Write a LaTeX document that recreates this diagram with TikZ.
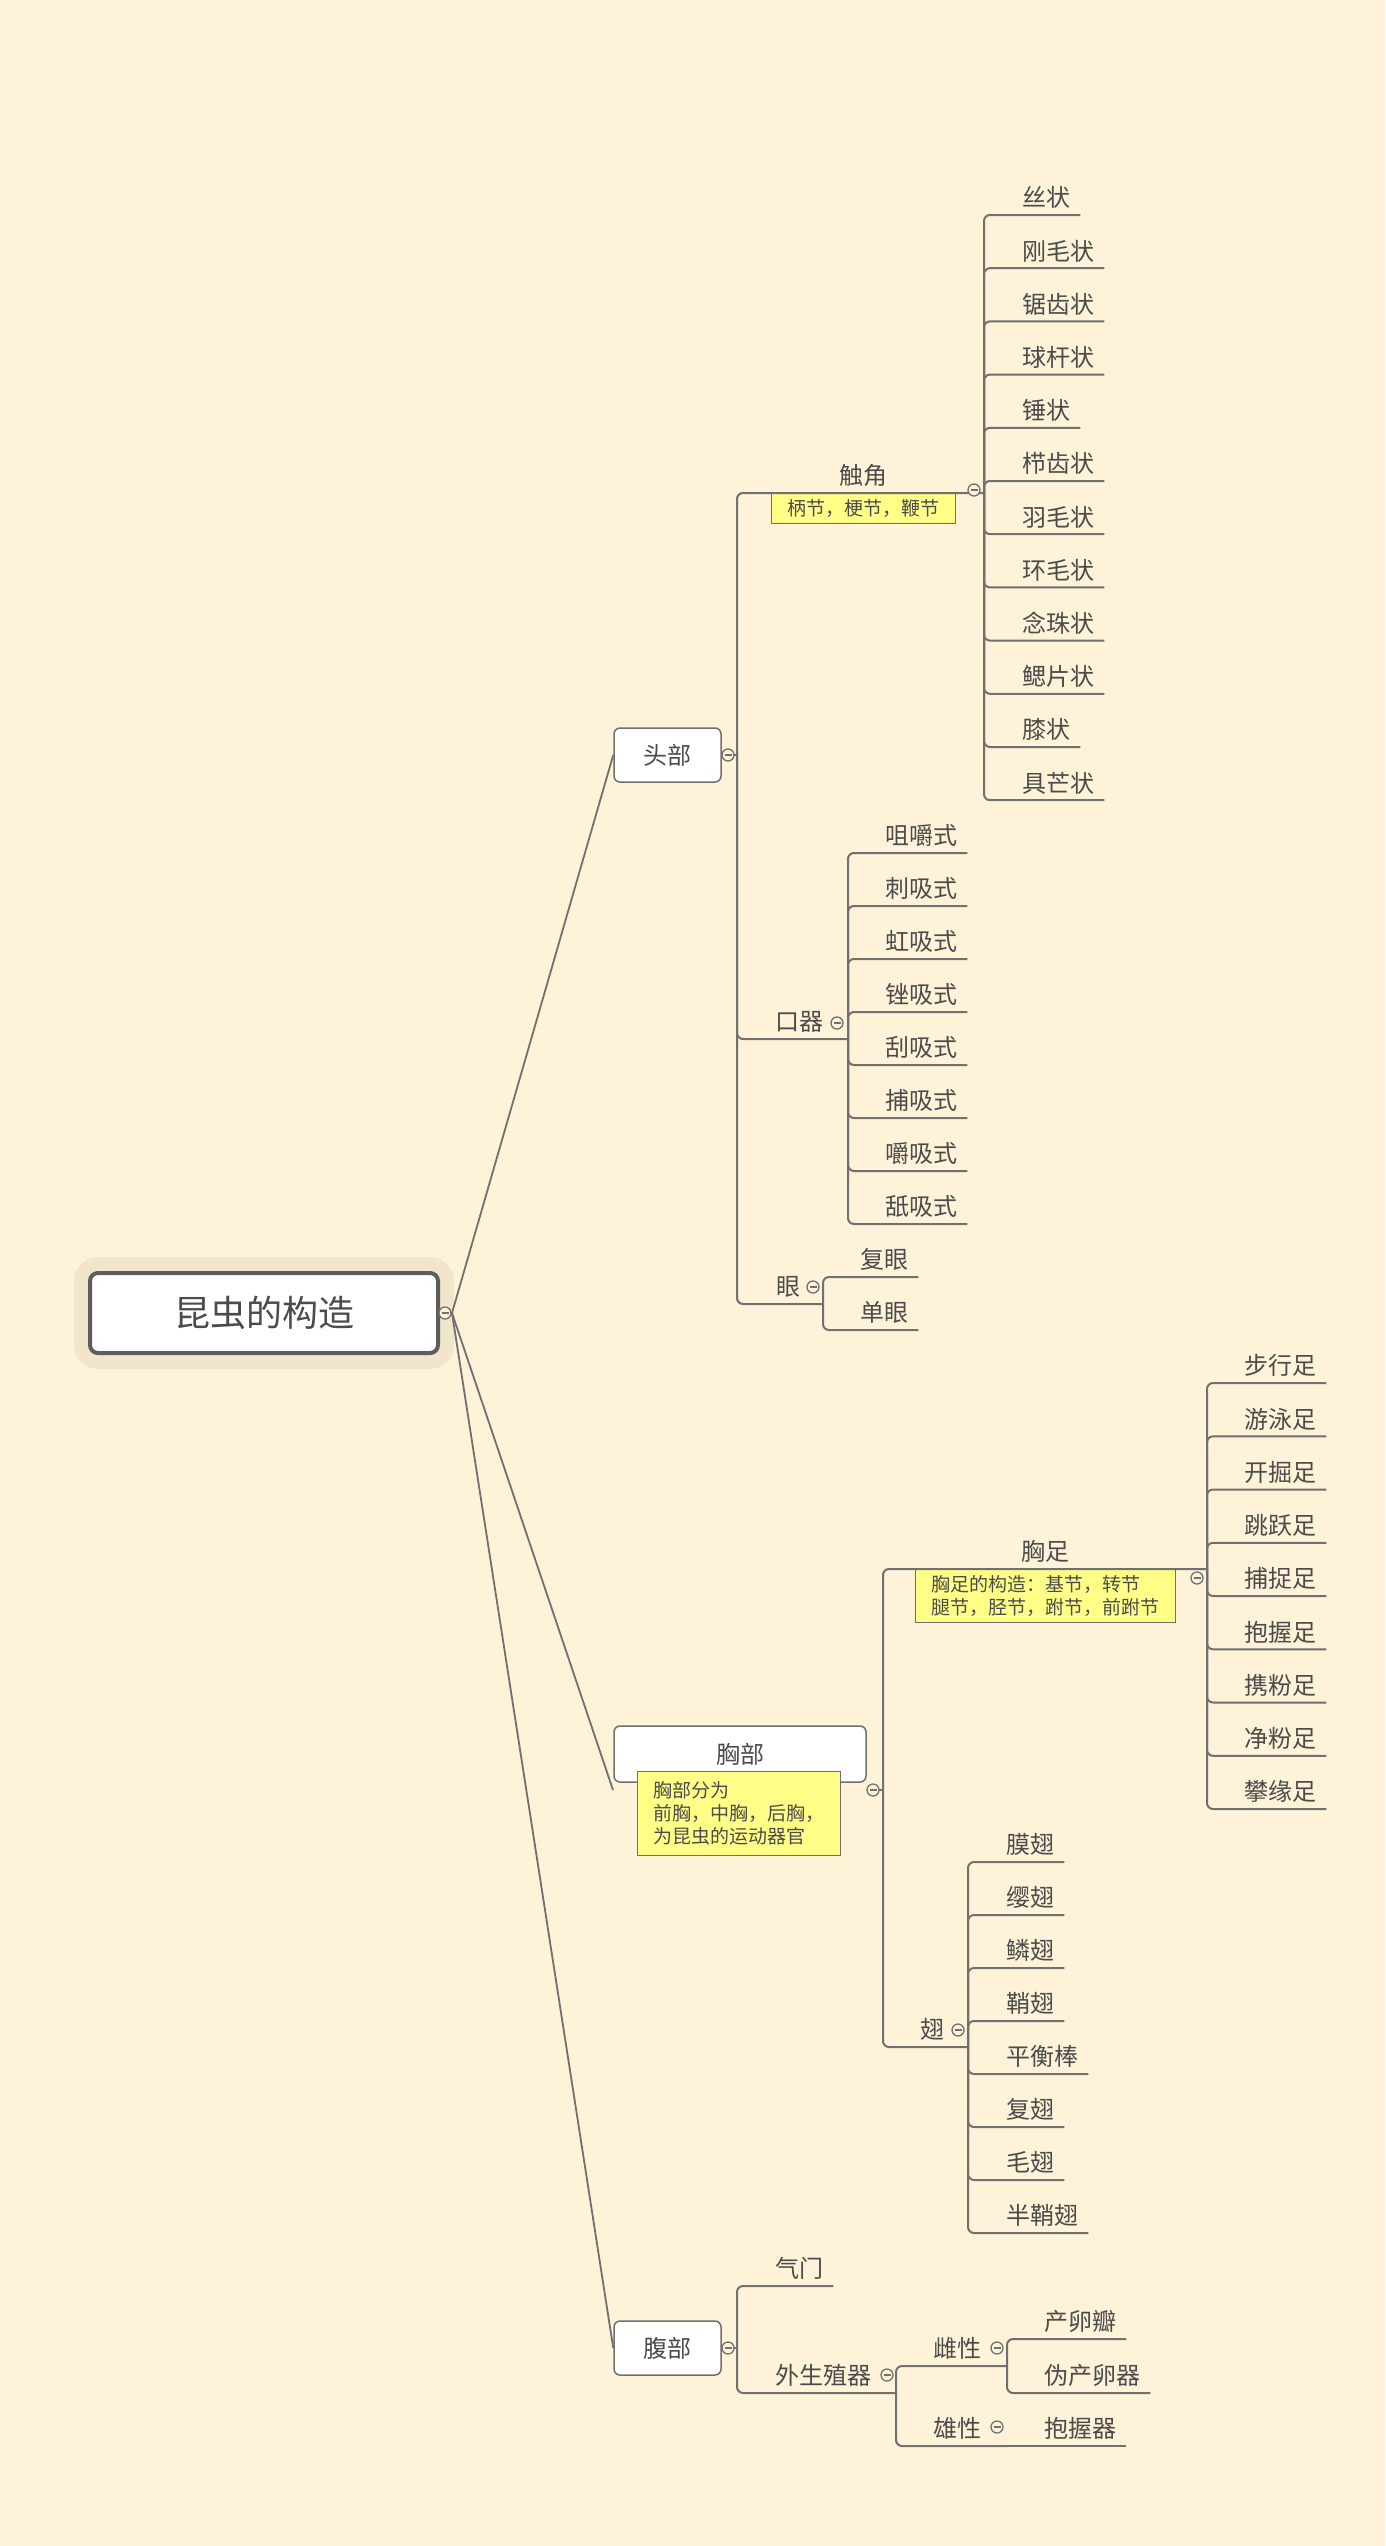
\documentclass[tikz,border=0pt]{standalone}
\usepackage{fontspec}
\newfontfamily\cjk{Noto Sans CJK SC}
\usetikzlibrary{positioning,calc}

\definecolor{paper}{HTML}{FEF3D8}
\definecolor{halo}{HTML}{F1E6CB}
\definecolor{ink}{HTML}{4B4B4B}
\definecolor{wire}{HTML}{707070}
\definecolor{notefill}{HTML}{FFFF88}

\begin{document}
\begin{tikzpicture}[
  x=1pt, y=-1pt,
  conn/.style={draw=wire, line width=2pt, rounded corners=6pt},
  spoke/.style={draw=wire, line width=1.8pt},
  root/.style={
    draw=ink!90,
    line width=4pt,
    fill=white,
    rounded corners=8pt,
    minimum width=348pt,
    minimum height=80pt,
    font=\cjk\fontsize{36}{40}\selectfont,
    text=ink,
    preaction={draw=halo, line width=32pt}
  },
  branch/.style={
    draw=wire,
    line width=1.5pt,
    fill=white,
    rounded corners=6pt,
    minimum width=107pt,
    minimum height=54pt,
    font=\cjk\fontsize{24}{28}\selectfont,
    text=ink
  },
  topic/.style={
    anchor=south west,
    inner xsep=10pt,
    inner ysep=3pt,
    text height=19pt,
    text depth=5pt,
    font=\cjk\fontsize{24}{28}\selectfont,
    text=ink
  },
  note/.style={
    draw=wire,
    line width=1.3pt,
    fill=notefill,
    align=left,
    inner xsep=16pt,
    inner ysep=6pt,
    font=\cjk\fontsize{19}{23}\selectfont,
    text=ink
  },
  fold/.style={
    circle,
    draw=wire,
    fill=paper,
    line width=1.3pt,
    minimum size=12pt,
    inner sep=0pt,
    path picture={\draw[wire, line width=1.3pt]
      ([xshift=-3.5pt]path picture bounding box.center) --
      ([xshift=3.5pt]path picture bounding box.center);}
  }
]

\fill[paper] (0,0) rectangle (1385,2546);
\useasboundingbox (0,0) rectangle (1385,2546);

% root and main branches
\node[root] (root) at (264,1313) {昆虫的构造};
\node[branch] (head) at (667.5,755) {头部};
\node[branch, minimum width=252pt, minimum height=56pt] (thorax) at (740,1754) {胸部};
\node[branch] (abdomen) at (667.5,2348) {腹部};

\node[note, anchor=north west, minimum height=84pt] (th-note) at (637,1771)
  {胸部分为\\前胸，中胸，后胸，\\为昆虫的运动器官};

\coordinate (root-out) at (452,1313);
\coordinate (th-in) at (613,1790);

% head
\coordinate (hd-sp) at (737,755);
\node[topic, minimum width=190pt] (antenna) at (768,493) {触角};
\node[note, below=0pt of antenna, align=center, minimum height=29pt] (an-note) {柄节，梗节，鞭节};
\node[topic] (mouth) at (765,1039) {口器};
\node[topic] (eye) at (766,1304) {眼};

\coordinate (an-sp) at (984,493);
\node[topic] (an1) at (1012,215) {丝状};
\node[topic] (an2) at (1012,268.2) {刚毛状};
\node[topic] (an3) at (1012,321.4) {锯齿状};
\node[topic] (an4) at (1012,374.6) {球杆状};
\node[topic] (an5) at (1012,427.8) {锤状};
\node[topic] (an6) at (1012,481) {栉齿状};
\node[topic] (an7) at (1012,534.2) {羽毛状};
\node[topic] (an8) at (1012,587.4) {环毛状};
\node[topic] (an9) at (1012,640.6) {念珠状};
\node[topic] (an10) at (1012,693.8) {鳃片状};
\node[topic] (an11) at (1012,747) {膝状};
\node[topic] (an12) at (1012,800.2) {具芒状};

\coordinate (mo-sp) at (848,1039);
\node[topic] (mo1) at (875,853) {咀嚼式};
\node[topic] (mo2) at (875,906) {刺吸式};
\node[topic] (mo3) at (875,959) {虹吸式};
\node[topic] (mo4) at (875,1012) {锉吸式};
\node[topic] (mo5) at (875,1065) {刮吸式};
\node[topic] (mo6) at (875,1118) {捕吸式};
\node[topic] (mo7) at (875,1171) {嚼吸式};
\node[topic] (mo8) at (875,1224) {舐吸式};

\coordinate (ey-sp) at (823,1304);
\node[topic] (ey1) at (850,1277) {复眼};
\node[topic] (ey2) at (850,1330) {单眼};

% thorax
\coordinate (th-sp) at (883,1790);
\node[topic, minimum width=265pt] (legs) at (913,1569) {胸足};
\node[note, below=0pt of legs] (lg-note)
  {胸足的构造：基节，转节\\腿节，胫节，跗节，前跗节};
\node[topic] (wings) at (910,2047) {翅};

\coordinate (lg-sp) at (1207,1569);
\node[topic] (lg1) at (1234,1383) {步行足};
\node[topic] (lg2) at (1234,1436.3) {游泳足};
\node[topic] (lg3) at (1234,1489.5) {开掘足};
\node[topic] (lg4) at (1234,1542.8) {跳跃足};
\node[topic] (lg5) at (1234,1596) {捕捉足};
\node[topic] (lg6) at (1234,1649.3) {抱握足};
\node[topic] (lg7) at (1234,1702.5) {携粉足};
\node[topic] (lg8) at (1234,1755.8) {净粉足};
\node[topic] (lg9) at (1234,1809) {攀缘足};

\coordinate (wg-sp) at (968,2047);
\node[topic] (wg1) at (996,1862) {膜翅};
\node[topic] (wg2) at (996,1915) {缨翅};
\node[topic] (wg3) at (996,1968) {鳞翅};
\node[topic] (wg4) at (996,2021) {鞘翅};
\node[topic] (wg5) at (996,2074) {平衡棒};
\node[topic] (wg6) at (996,2127) {复翅};
\node[topic] (wg7) at (996,2180) {毛翅};
\node[topic] (wg8) at (996,2233) {半鞘翅};

% abdomen
\coordinate (ab-sp) at (737,2348);
\node[topic] (spiracle) at (765,2286) {气门};
\node[topic] (genital) at (765,2393) {外生殖器};
\coordinate (ge-sp) at (896,2393);
\node[topic] (female) at (923,2366) {雌性};
\node[topic] (male) at (923,2446) {雄性};
\coordinate (fe-sp) at (1007,2366);
\coordinate (ma-sp) at (1007,2446);
\node[topic] (fe1) at (1034,2339) {产卵瓣};
\node[topic] (fe2) at (1034,2393) {伪产卵器};
\node[topic] (ma1) at (1034,2446) {抱握器};

% connectors
\draw[spoke] (root-out) -- (head.west);
\draw[spoke] (root-out) -- (th-in);
\draw[spoke] (root-out) -- (abdomen.west);

\draw[conn] (head.east) -- (hd-sp);
\draw[conn] (hd-sp) |- (antenna.south east) -- (an-sp);
\draw[conn] (hd-sp) |- (mouth.south east) -- (mo-sp);
\draw[conn] (hd-sp) |- (eye.south east) -- (ey-sp);

\draw[conn] (an-sp) |- (an1.south east);
\draw[conn] (an-sp) |- (an2.south east);
\draw[conn] (an-sp) |- (an3.south east);
\draw[conn] (an-sp) |- (an4.south east);
\draw[conn] (an-sp) |- (an5.south east);
\draw[conn] (an-sp) |- (an6.south east);
\draw[conn] (an-sp) |- (an7.south east);
\draw[conn] (an-sp) |- (an8.south east);
\draw[conn] (an-sp) |- (an9.south east);
\draw[conn] (an-sp) |- (an10.south east);
\draw[conn] (an-sp) |- (an11.south east);
\draw[conn] (an-sp) |- (an12.south east);

\draw[conn] (mo-sp) |- (mo1.south east);
\draw[conn] (mo-sp) |- (mo2.south east);
\draw[conn] (mo-sp) |- (mo3.south east);
\draw[conn] (mo-sp) |- (mo4.south east);
\draw[conn] (mo-sp) |- (mo5.south east);
\draw[conn] (mo-sp) |- (mo6.south east);
\draw[conn] (mo-sp) |- (mo7.south east);
\draw[conn] (mo-sp) |- (mo8.south east);

\draw[conn] (ey-sp) |- (ey1.south east);
\draw[conn] (ey-sp) |- (ey2.south east);

\draw[conn] (thorax.east |- th-sp) -- (th-sp);
\draw[conn] (th-sp) |- (legs.south east) -- (lg-sp);
\draw[conn] (th-sp) |- (wings.south east) -- (wg-sp);

\draw[conn] (lg-sp) |- (lg1.south east);
\draw[conn] (lg-sp) |- (lg2.south east);
\draw[conn] (lg-sp) |- (lg3.south east);
\draw[conn] (lg-sp) |- (lg4.south east);
\draw[conn] (lg-sp) |- (lg5.south east);
\draw[conn] (lg-sp) |- (lg6.south east);
\draw[conn] (lg-sp) |- (lg7.south east);
\draw[conn] (lg-sp) |- (lg8.south east);
\draw[conn] (lg-sp) |- (lg9.south east);

\draw[conn] (wg-sp) |- (wg1.south east);
\draw[conn] (wg-sp) |- (wg2.south east);
\draw[conn] (wg-sp) |- (wg3.south east);
\draw[conn] (wg-sp) |- (wg4.south east);
\draw[conn] (wg-sp) |- (wg5.south east);
\draw[conn] (wg-sp) |- (wg6.south east);
\draw[conn] (wg-sp) |- (wg7.south east);
\draw[conn] (wg-sp) |- (wg8.south east);

\draw[conn] (abdomen.east) -- (ab-sp);
\draw[conn] (ab-sp) |- (spiracle.south east);
\draw[conn] (ab-sp) |- (genital.south east) -- (ge-sp);
\draw[conn] (ge-sp) |- (female.south east) -- (fe-sp);
\draw[conn] (ge-sp) |- (male.south east) -- (ma-sp);
\draw[conn] (fe-sp) |- (fe1.south east);
\draw[conn] (fe-sp) |- (fe2.south east);
\draw[conn] (ma-sp) -- (ma1.south east);

% fold markers
\node[fold] (root-fold) at (445,1313) {};
\node[fold] (hd-fold) at (728,755) {};
\node[fold] (an-fold) at (974,490) {};
\node[fold] (mo-fold) at (837,1023) {};
\node[fold] (ey-fold) at (813,1287) {};
\node[fold] (th-fold) at (873,1790) {};
\node[fold] (lg-fold) at (1197,1578) {};
\node[fold] (wg-fold) at (958,2030) {};
\node[fold] (ab-fold) at (728,2348) {};
\node[fold] (ge-fold) at (887,2375) {};
\node[fold] (fe-fold) at (997,2348) {};
\node[fold] (ma-fold) at (997,2427) {};

\end{tikzpicture}
\end{document}
